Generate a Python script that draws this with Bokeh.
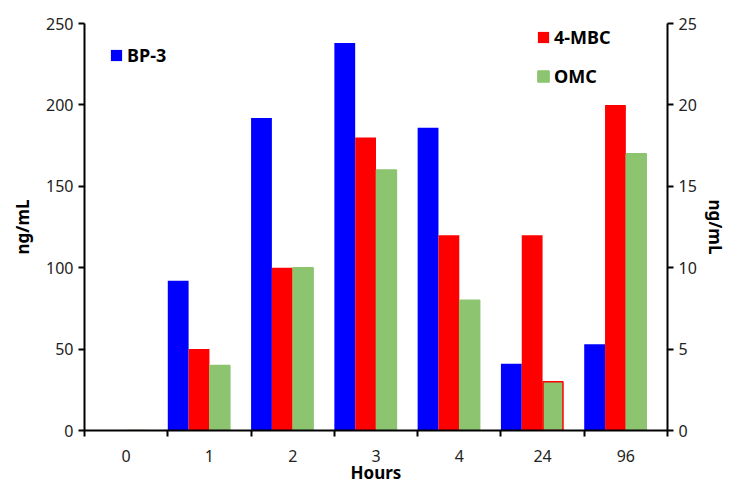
from bokeh.plotting import figure
from bokeh.models import (Range1d, LinearAxis, FixedTicker, ColumnDataSource,
                          Legend, LegendItem)
from bokeh.embed import file_html
from bokeh.resources import INLINE

hours = ["0", "1", "2", "3", "4", "24", "96"]
bp3 = [0, 92, 192, 238, 186, 41, 53]
mbc = [0, 5, 10, 18, 12, 12, 20]
omc = [0, 4, 10, 16, 8, 3, 17]

FONT = "Noto Sans"
BLUE, RED, GREEN = "#0000FF", "#FF0000", "#8CC46F"

idx = list(range(len(hours)))
W = 0.25

p = figure(width=729, height=486, x_range=Range1d(0, len(hours)),
           y_range=Range1d(0, 250), output_backend="svg", toolbar_location=None,
           min_border_left=84, min_border_right=61, min_border_top=23,
           min_border_bottom=55)
p.extra_y_ranges = {"right": Range1d(0, 25)}
p.grid.visible = False
p.outline_line_color = None

src_b = ColumnDataSource(dict(x=[i + W * 0.5 for i in idx], top=bp3))
src_m = ColumnDataSource(dict(x=[i + W * 1.5 for i in idx], top=mbc))
omc_line = [RED if h == "24" else GREEN for h in hours]
src_o = ColumnDataSource(dict(x=[i + W * 2.5 for i in idx], top=omc, lc=omc_line))

rb = p.vbar(x="x", top="top", width=W, source=src_b, fill_color=BLUE, line_color=None)
rm = p.vbar(x="x", top="top", width=W, source=src_m, fill_color=RED, line_color=None,
            y_range_name="right")
ro = p.vbar(x="x", top="top", width=W * 0.96, source=src_o, fill_color=GREEN,
            line_color="lc", line_width=1.5, y_range_name="right")

def style_axis(ax):
    ax.axis_line_width = 2
    ax.axis_line_color = "black"
    ax.major_tick_line_width = 2
    ax.major_tick_out = 6
    ax.major_tick_in = 0
    ax.minor_tick_line_color = None
    ax.major_label_text_font = FONT
    ax.major_label_text_font_size = "16px"
    ax.major_label_text_color = "#222222"
    ax.major_label_standoff = 5
    ax.axis_label_text_font = FONT
    ax.axis_label_text_font_size = "17px"
    ax.axis_label_text_font_style = "bold"
    ax.axis_label_text_color = "black"

# x axis: labels at category centers, ticks at boundaries
xa = p.xaxis[0]
style_axis(xa)
xa.ticker = FixedTicker(ticks=[i + 0.5 for i in idx], minor_ticks=idx + [len(hours)])
xa.major_label_overrides = {i + 0.5: h for i, h in zip(idx, hours)}
xa.major_tick_out = 0
xa.minor_tick_line_color = "black"
xa.minor_tick_line_width = 2
xa.minor_tick_out = 6
xa.minor_tick_in = 0
xa.major_label_standoff = 13
xa.axis_label = "Hours"
xa.axis_label_standoff = -4

ya = p.yaxis[0]
style_axis(ya)
ya.ticker = FixedTicker(ticks=[0, 50, 100, 150, 200, 250])
ya.axis_label = "ng/mL"
ya.axis_label_standoff = 9

yr = LinearAxis(y_range_name="right", axis_label="ng/mL")
style_axis(yr)
yr.ticker = FixedTicker(ticks=[0, 5, 10, 15, 20, 25])
yr.axis_label_standoff = 4
p.add_layout(yr, "right")

def mk_legend(items, loc):
    lg = Legend(items=items, location=loc, orientation="vertical")
    lg.glyph_width = 14
    lg.glyph_height = 14
    lg.label_text_font = FONT
    lg.label_text_font_size = "18px"
    lg.label_text_font_style = "bold"
    lg.label_text_color = "black"
    lg.border_line_color = None
    lg.background_fill_alpha = 0
    lg.padding = 0
    lg.margin = 0
    lg.spacing = 15
    lg.label_standoff = 4
    lg.label_height = 20
    return lg

p.add_layout(mk_legend([LegendItem(label="BP-3", renderers=[rb])], (25, 363)), "center")
p.add_layout(mk_legend([LegendItem(label="4-MBC", renderers=[rm]),
                        LegendItem(label="OMC", renderers=[ro])], (452, 342)), "center")

open("out.html", "w").write(file_html(p, INLINE))
